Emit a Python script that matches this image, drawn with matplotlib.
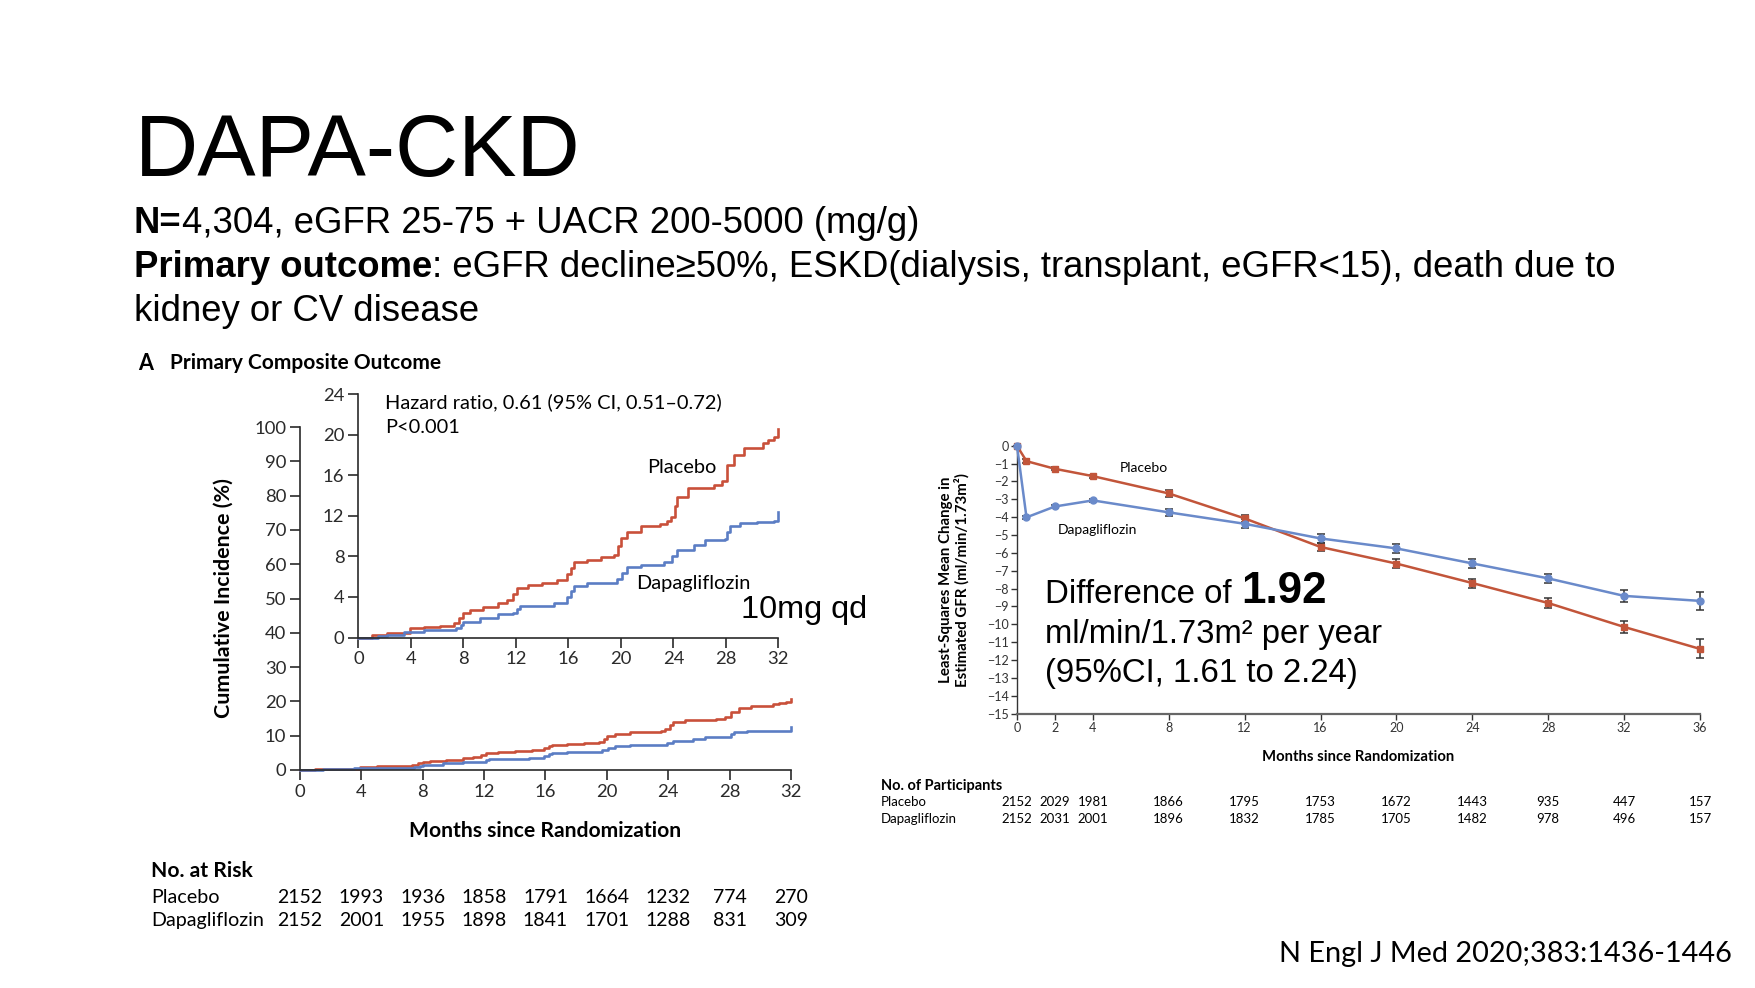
import matplotlib
matplotlib.use('Agg')
import matplotlib.pyplot as plt
import matplotlib.transforms as mtransforms

W, H = 1756, 988

# Kaplan-Meier, primary composite outcome (months, cumulative incidence %)
pla_t = [0, 1.0, 2.2, 3.9, 5.0, 6.2, 7.3, 7.7, 8.0, 8.5, 9.5, 10.6, 11.3, 11.8, 12.1, 12.9, 14.0,
         15.1, 15.9, 16.2, 16.4, 17.4, 18.5, 19.5, 19.8, 20.0, 20.5, 21.5, 23.0, 23.5, 23.8, 24.1,
         24.3, 25.1, 27.1, 27.7, 28.1, 28.6, 29.4, 30.8, 31.2, 31.7, 32.0]
pla_y = [0, 0.2, 0.43, 0.9, 1.05, 1.15, 1.4, 1.9, 2.4, 2.7, 3.0, 3.45, 3.7, 4.3, 4.85, 5.2, 5.4,
         5.7, 6.3, 6.9, 7.4, 7.65, 7.9, 8.15, 9.0, 9.8, 10.45, 11.0, 11.2, 11.5, 11.9, 13.0,
         13.9, 14.7, 15.0, 15.4, 17.0, 18.0, 18.65, 19.2, 19.5, 19.8, 20.6]
dapa_t = [0, 1.5, 2.2, 3.5, 5.0, 7.4, 7.8, 8.0, 9.3, 10.6, 11.8, 12.1, 12.3, 14.9, 15.9, 16.2,
          16.4, 17.4, 19.7, 20.1, 20.5, 21.5, 23.3, 23.9, 24.3, 25.6, 26.4, 27.9, 28.1, 28.3,
          29.1, 30.4, 31.7, 32.0]
dapa_y = [0, 0.15, 0.26, 0.5, 0.7, 0.9, 1.2, 1.5, 1.9, 2.3, 2.4, 2.8, 3.1, 3.4, 4.0, 4.6,
          5.1, 5.35, 5.75, 6.4, 7.0, 7.15, 7.4, 8.0, 8.6, 9.1, 9.6, 9.7, 10.4, 11.0,
          11.3, 11.4, 11.5, 12.4]

risk_t = [0, 4, 8, 12, 16, 20, 24, 28, 32]
risk_pla = [2152, 1993, 1936, 1858, 1791, 1664, 1232, 774, 270]
risk_dapa = [2152, 2001, 1955, 1898, 1841, 1701, 1288, 831, 309]

# eGFR change (ml/min/1.73m2)
egfr_t = [0, 0.5, 2, 4, 8, 12, 16, 20, 24, 28, 32, 36]
egfr_pla = [0, -0.86, -1.29, -1.70, -2.67, -4.07, -5.67, -6.60, -7.69, -8.81, -10.15, -11.38]
egfr_pla_err = [0, 0.1, 0.08, 0.08, 0.2, 0.2, 0.25, 0.25, 0.25, 0.28, 0.36, 0.53]
egfr_dapa = [0, -4.01, -3.40, -3.06, -3.73, -4.37, -5.19, -5.75, -6.59, -7.43, -8.41, -8.69]
egfr_dapa_err = [0, 0.08, 0.08, 0.08, 0.2, 0.25, 0.27, 0.25, 0.25, 0.26, 0.35, 0.51]

part_t = [0, 2, 4, 8, 12, 16, 20, 24, 28, 32, 36]
part_pla = [2152, 2029, 1981, 1866, 1795, 1753, 1672, 1443, 935, 447, 157]
part_dapa = [2152, 2031, 2001, 1896, 1832, 1785, 1705, 1482, 978, 496, 157]

RED = '#C9503A'
BLUE = '#5B7DC4'
RED2 = '#C2553A'
BLUE2 = '#6A8ACA'
SLIDE = 'Liberation Sans'
NEJM = 'Lato'


def fx(px):
    return px / W


def fy(py):
    return 1 - py / H


fig = plt.figure(figsize=(W / 100, H / 100), dpi=100)
renderer = fig.canvas.get_renderer()


def rich(x, y, parts, size, gap=0):
    # parts: list of (text, weight); drawn one after the other on one baseline
    for s, wgt in parts:
        t = fig.text(fx(x), fy(y), s, fontsize=size, fontweight=wgt, family=SLIDE,
                     va='baseline', ha='left')
        bb = t.get_window_extent(renderer)
        x = bb.x1 + gap


# slide text
fig.text(fx(135), fy(176), 'DAPA-CKD', fontsize=63, family=SLIDE, va='baseline')
rich(134, 233, [('N=', 'bold'), ('4,304, eGFR 25-75 + UACR 200-5000 (mg/g)', 'normal')], 26.3)
rich(134, 277, [('Primary outcome', 'bold'),
                (': eGFR decline\u226550%, ESKD(dialysis, transplant, eGFR<15), death due to', 'normal')], 26.3)
fig.text(fx(134), fy(321), 'kidney or CV disease', fontsize=26.3, family=SLIDE, va='baseline')
fig.text(fx(1732), fy(962), 'N Engl J Med 2020;383:1436-1446', fontsize=20.8, family=NEJM,
         va='baseline', ha='right')

fig.text(fx(138), fy(363), 'A', fontsize=15.5, fontweight='bold', family=NEJM, va='center')
fig.text(fx(170), fy(363), 'Primary Composite Outcome', fontsize=15, fontweight='bold',
         family=NEJM, va='center')

# outer KM axes
ax = fig.add_axes([fx(300), fy(770), 491 / W, 343 / H])
ax.step(pla_t, pla_y, where='post', color=RED, lw=1.9, clip_on=False)
ax.step(dapa_t, dapa_y, where='post', color=BLUE, lw=1.9, clip_on=False)
ax.set_xlim(0, 32)
ax.set_ylim(0, 100)
ax.set_xticks(risk_t)
ax.set_yticks(range(0, 101, 10))
ax.set_xlabel('Months since Randomization', fontsize=15.2, fontweight='bold', family=NEJM)
ax.xaxis.set_label_coords(0.5, -0.15)
ax.set_ylabel('Cumulative Incidence (%)', fontsize=15.4, fontweight='bold', family=NEJM)
ax.yaxis.set_label_coords(-0.135, 0.5)

# inset
ins = fig.add_axes([fx(358.4), fy(637.5), 420 / W, 243.3 / H])
ins.set_facecolor('none')
ins.step(pla_t, pla_y, where='post', color=RED, lw=1.9, clip_on=False)
ins.step(dapa_t, dapa_y, where='post', color=BLUE, lw=1.9, clip_on=False)
ins.set_xlim(0, 32)
ins.set_ylim(0, 24)
ins.set_xticks(risk_t)
ins.set_yticks(range(0, 25, 4))
ins.text(0.063, 0.969, 'Hazard ratio, 0.61 (95% CI, 0.51\u20130.72)', transform=ins.transAxes,
         fontsize=14.4, family=NEJM, va='center')
ins.text(0.063, 0.862, 'P<0.001', transform=ins.transAxes, fontsize=14.4, family=NEJM, va='center')
ins.text(22.0, 16.8, 'Placebo', fontsize=14.4, family=NEJM, va='center')
ins.text(21.15, 5.35, 'Dapagliflozin', fontsize=14.4, family=NEJM, va='center')

for a in (ax, ins):
    for side in ('top', 'right'):
        a.spines[side].set_visible(False)
    for side in ('left', 'bottom'):
        a.spines[side].set_color('#2a2a2a')
        a.spines[side].set_linewidth(1.2)
    a.tick_params(direction='out', length=7, width=1.2, colors='#2a2a2a', labelsize=13.3, pad=3)
    for lab in a.get_xticklabels() + a.get_yticklabels():
        lab.set_family(NEJM)

fig.text(fx(741), fy(610), '10mg qd', fontsize=23.3, family=SLIDE, va='center')

# risk table
tr = mtransforms.blended_transform_factory(ax.transData, fig.transFigure)
fig.text(fx(151), fy(871), 'No. at Risk', fontsize=15.2, fontweight='bold', family=NEJM, va='center')
fig.text(fx(151), fy(897), 'Placebo', fontsize=14.2, family=NEJM, va='center')
fig.text(fx(151), fy(920), 'Dapagliflozin', fontsize=14.2, family=NEJM, va='center')
for t, p, d in zip(risk_t, risk_pla, risk_dapa):
    ax.text(t, fy(897), str(p), transform=tr, fontsize=14, family=NEJM, ha='center', va='center')
    ax.text(t, fy(920), str(d), transform=tr, fontsize=14, family=NEJM, ha='center', va='center')

# eGFR axes
ax2 = fig.add_axes([fx(1017), fy(713.5), 683 / W, 267.7 / H])
ax2.errorbar(egfr_t, egfr_pla, yerr=egfr_pla_err, color=RED2, lw=1.8, marker='s', ms=5,
             ecolor='#333333', elinewidth=1.1, capsize=3, capthick=1.1, clip_on=False, zorder=3)
ax2.errorbar(egfr_t, egfr_dapa, yerr=egfr_dapa_err, color=BLUE2, lw=1.8, marker='o', ms=5,
             ecolor='#333333', elinewidth=1.1, capsize=3, capthick=1.1, clip_on=False, zorder=3)
ax2.set_xlim(0, 36)
ax2.set_ylim(-15, 0)
ax2.set_xticks(part_t)
ax2.set_yticks(range(-15, 1))
for side in ('top', 'right'):
    ax2.spines[side].set_visible(False)
ax2.spines['left'].set_color('#333333')
ax2.spines['left'].set_linewidth(1.0)
ax2.spines['bottom'].set_color('#666666')
ax2.spines['bottom'].set_linewidth(1.6)
ax2.tick_params(direction='out', length=4, width=1.0, colors='#333333', labelsize=9, pad=2)
for lab in ax2.get_xticklabels() + ax2.get_yticklabels():
    lab.set_family(NEJM)
ax2.text(5.43, -1.23, 'Placebo', fontsize=10, family=NEJM, va='center')
ax2.text(2.14, -4.7, 'Dapagliflozin', fontsize=10, family=NEJM, va='center')
ax2.set_xlabel('Months since Randomization', fontsize=10.7, fontweight='bold', family=NEJM)
ax2.xaxis.set_label_coords(0.5, -0.135)
ax2.set_ylabel('Least-Squares Mean Change in\nEstimated GFR (ml/min/1.73m\u00b2)', fontsize=10.8,
               fontweight='bold', family=NEJM, linespacing=1.1)
ax2.yaxis.set_label_coords(-0.07, 0.5)

# difference annotation
t1 = fig.text(fx(1045), fy(603), 'Difference of', fontsize=23.8, family=SLIDE, va='baseline')
bb = t1.get_window_extent(renderer)
fig.text((bb.x1 + 10) / W, fy(603), '1.92', fontsize=31.7, fontweight='bold', family=SLIDE,
         va='baseline')
fig.text(fx(1045), fy(643), 'ml/min/1.73m\u00b2 per year', fontsize=23.6, family=SLIDE, va='baseline')
fig.text(fx(1045), fy(682), '(95%CI, 1.61 to 2.24)', fontsize=23.8, family=SLIDE, va='baseline')

# participants table
tr2 = mtransforms.blended_transform_factory(ax2.transData, fig.transFigure)
fig.text(fx(881), fy(786), 'No. of Participants', fontsize=10.5, fontweight='bold', family=NEJM, va='center')
fig.text(fx(881), fy(802), 'Placebo', fontsize=9.5, family=NEJM, va='center')
fig.text(fx(881), fy(819), 'Dapagliflozin', fontsize=9.5, family=NEJM, va='center')
for t, p, d in zip(part_t, part_pla, part_dapa):
    ax2.text(t, fy(802), str(p), transform=tr2, fontsize=9.5, family=NEJM, ha='center', va='center')
    ax2.text(t, fy(819), str(d), transform=tr2, fontsize=9.5, family=NEJM, ha='center', va='center')

plt.savefig('out.png', dpi=100)
